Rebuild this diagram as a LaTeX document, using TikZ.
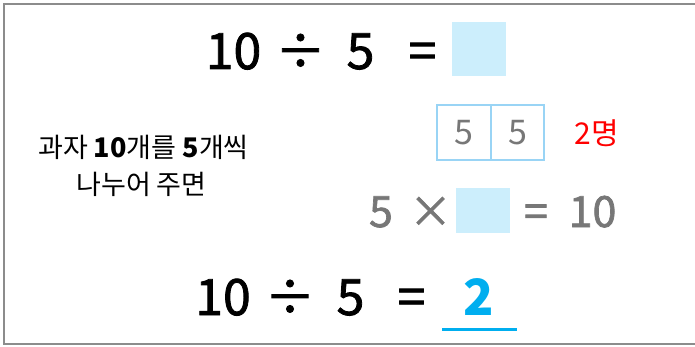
\documentclass[tikz,border=0pt]{standalone}
\usepackage{fontspec}
\setmainfont{Noto Sans CJK KR}
\newfontfamily\eqfont[FakeBold=1.6]{Noto Sans CJK KR}
\definecolor{blankfill}{HTML}{CCEEFC}
\definecolor{cellline}{HTML}{99D4F5}
\definecolor{answerblue}{HTML}{00AEEF}
\definecolor{hintgray}{HTML}{777777}
\definecolor{framegray}{HTML}{8C8C8C}
\begin{document}
\begin{tikzpicture}[
        x=1pt, y=-1pt,
        every node/.style={inner sep=0pt, anchor=base},
        bigsym/.style={font=\eqfont\fontsize{50}{50}\selectfont},
        graysym/.style={font=\eqfont\fontsize{43}{43}\selectfont, text=hintgray},
        story/.style={font=\fontsize{27}{27}\selectfont},
        blank/.style={fill=blankfill, anchor=center, minimum width=54pt},
        cell/.style={draw=cellline, line width=2pt, anchor=center,
            minimum width=53.5pt, minimum height=55pt,
            font=\fontsize{34}{34}\selectfont, text=hintgray}
    ]
    \useasboundingbox (0,0) rectangle (695,347);
    \draw[framegray, line width=2pt] (3.5,4.5) rectangle (712,344);

    % question
    \node[bigsym] (qten) at (233.5,69) {10};
    \node[bigsym] (qdiv) at (300.5,69) {÷};
    \node[bigsym] (qfive) at (360.5,69) {5};
    \node[bigsym] (qeq) at (422.5,69) {=};
    \node[blank, minimum height=54pt] (qblank) at (479,49) {};

    % story
    \node[story] (storyA) at (143.5,158) {과자 {\bfseries 10}개를 {\bfseries 5}개씩};
    \node[story] (storyB) at (141.5,195) {나누어 주면};

    % groups of five
    \node[cell] (cellA) at (464,132.5) {5};
    \node[cell] (cellB) at (517.5,132.5) {5};
    \node[font=\fontsize{30}{30}\selectfont, text=red] (people) at (597,145) {2명};

    % multiplication hint
    \node[graysym] (mfive) at (381,227) {5};
    \node[graysym] (mtimes) at (430.5,227) {×};
    \node[blank, minimum height=45pt] (mblank) at (483,210.5) {};
    \node[graysym] (meq) at (536,227) {=};
    \node[graysym] (mten) at (592.5,227) {10};

    % answer
    \node[bigsym] (aten) at (223,315) {10};
    \node[bigsym] (adiv) at (290,315) {÷};
    \node[bigsym] (afive) at (350.5,315) {5};
    \node[bigsym] (aeq) at (411.5,315) {=};
    \node[bigsym, font=\bfseries\fontsize{50}{50}\selectfont, text=answerblue] (atwo) at (479,315) {2};
    \coordinate (lineL) at (442,329);
    \coordinate (lineR) at (517,329);
    \draw[answerblue, line width=3pt] (lineL) -- (lineR);
\end{tikzpicture}
\end{document}
